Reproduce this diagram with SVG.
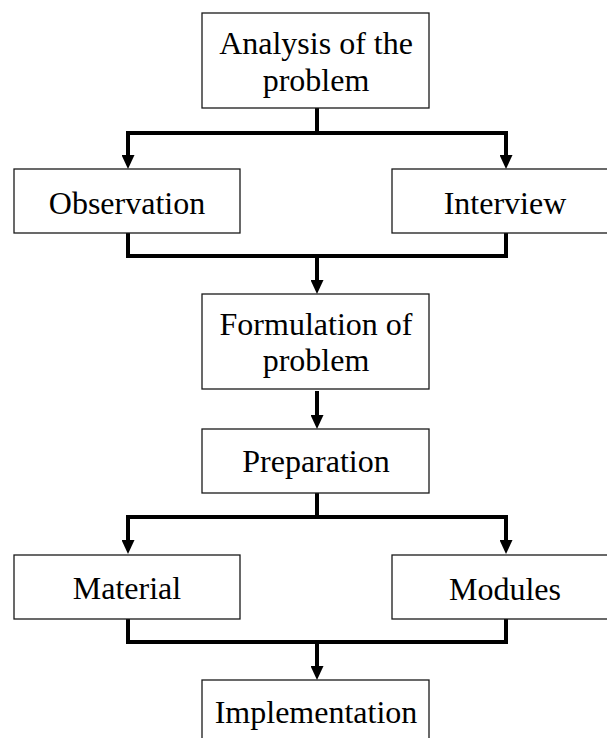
<svg xmlns="http://www.w3.org/2000/svg" width="607" height="738" viewBox="0 0 607 738">
<style>
.box{fill:#fff;stroke:#1a1a1a;stroke-width:1.3}
.t{font-family:"Liberation Serif","Times New Roman",serif;font-size:32px;text-anchor:middle;fill:#000}
.c{fill:none;stroke:#000;stroke-width:4;stroke-linejoin:miter}
.h{stroke-linecap:square}
.a{marker-end:url(#arr)}
</style>
<defs>
<marker id="arr" markerUnits="userSpaceOnUse" viewBox="0 0 14 13" refX="0" refY="6.5" markerWidth="14" markerHeight="13" orient="auto">
<path d="M0,0 L14,6.5 L0,13 Z" fill="#000"/>
</marker>
</defs>
<g id="connectors">
<path class="c" d="M317,108 V133"/>
<path class="c h" d="M128,133 H506"/>
<path class="c a" d="M128,133 V155"/>
<path class="c a" d="M506,133 V155"/>
<path class="c" d="M128,233 V256 H506 V233"/>
<path class="c a" d="M317,256 V280"/>
<path class="c a" d="M317,391 V415"/>
<path class="c" d="M317,493 V517"/>
<path class="c h" d="M128,517 H506"/>
<path class="c a" d="M128,517 V540"/>
<path class="c a" d="M506,517 V540"/>
<path class="c" d="M128,619 V642 H506 V619"/>
<path class="c a" d="M317,642 V666"/>
</g>
<g id="analysis">
<rect class="box" x="202" y="13" width="227" height="95"/>
<text class="t" x="316" y="54">Analysis of the</text>
<text class="t" x="316" y="91">problem</text>
</g>
<g id="observation">
<rect class="box" x="14" y="169" width="226" height="64"/>
<text class="t" x="127" y="214">Observation</text>
</g>
<g id="interview">
<rect class="box" x="392" y="169" width="226" height="64"/>
<text class="t" x="505" y="214">Interview</text>
</g>
<g id="formulation">
<rect class="box" x="202" y="294" width="227" height="95"/>
<text class="t" x="316" y="335">Formulation of</text>
<text class="t" x="316" y="371">problem</text>
</g>
<g id="preparation">
<rect class="box" x="202" y="429" width="227" height="64"/>
<text class="t" x="316" y="472">Preparation</text>
</g>
<g id="material">
<rect class="box" x="14" y="555" width="226" height="64"/>
<text class="t" x="127" y="599">Material</text>
</g>
<g id="modules">
<rect class="box" x="392" y="555" width="226" height="64"/>
<text class="t" x="505" y="600">Modules</text>
</g>
<g id="implementation">
<rect class="box" x="202" y="680" width="227" height="64"/>
<text class="t" x="316" y="723">Implementation</text>
</g>
</svg>
